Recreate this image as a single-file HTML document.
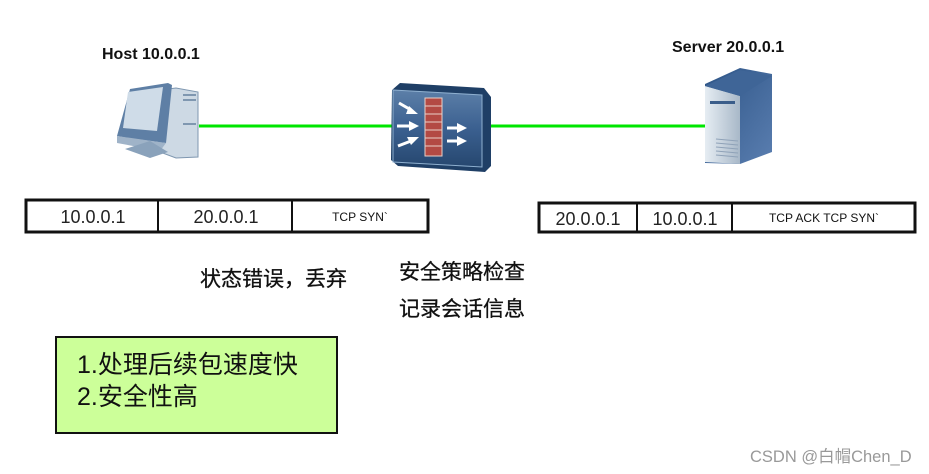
<!DOCTYPE html>
<html><head><meta charset="utf-8"><style>
html,body{margin:0;padding:0;background:#fff;}
svg{display:block;}
text{font-family:"Liberation Sans","Noto Sans CJK SC",sans-serif;}
</style></head><body>
<svg width="929" height="474" viewBox="0 0 929 474" xmlns="http://www.w3.org/2000/svg">
<defs>
<linearGradient id="fw" x1="0" y1="0" x2="0" y2="1"><stop offset="0" stop-color="#5c7fa8"/><stop offset="0.5" stop-color="#3b6090"/><stop offset="1" stop-color="#26476f"/></linearGradient>
<linearGradient id="sv" x1="0" y1="0" x2="1" y2="0"><stop offset="0" stop-color="#e6edf3"/><stop offset="1" stop-color="#a8b8c8"/></linearGradient>
<linearGradient id="sd" x1="0" y1="0" x2="1" y2="1"><stop offset="0" stop-color="#2d5486"/><stop offset="1" stop-color="#5a7eb0"/></linearGradient>
</defs>
<line x1="199" y1="126" x2="392" y2="126" stroke="#00e600" stroke-width="3"/>
<line x1="489" y1="126" x2="708" y2="126" stroke="#00e600" stroke-width="3"/>
<text x="102" y="59" font-size="16" font-weight="bold" fill="#111">Host 10.0.0.1</text>
<text x="672" y="52" font-size="16" font-weight="bold" fill="#111">Server 20.0.0.1</text>
<!-- host PC -->
<polygon points="160,90 176,88 198,92 198,157 176,158 160,152" fill="#cdd9e4" stroke="#7f97b0"/>
<rect x="183" y="94" width="13" height="2" fill="#7f97b0"/>
<rect x="183" y="99" width="13" height="2" fill="#7f97b0"/>
<rect x="183" y="123" width="13" height="2" fill="#7f97b0"/>
<polygon points="130,89 168,83 172,85 166,143 128,138 117,136" fill="#5e7fa5"/>
<polygon points="128,92 163,87 157,131 123,128" fill="#cfdce8"/>
<polygon points="117,136 166,143 160,151 117,143" fill="#9fb3c8"/>
<polygon points="125,149 150,141 168,152 150,158" fill="#8aa2bb"/>
<!-- firewall -->
<polygon points="392,90 400,83 484,88 491,97 491,166 485,172 398,166 391,160" fill="#1f3f66"/>
<polygon points="393,90 482,95 482,167 393,162" fill="url(#fw)" stroke="#8fb0d0" stroke-width="1"/>
<rect x="425" y="98" width="17" height="58" fill="#b34a44" stroke="#e8d0c8" stroke-width="1"/>
<g stroke="#e8d0c8" stroke-width="1">
<line x1="425" y1="106" x2="442" y2="106"/><line x1="425" y1="114" x2="442" y2="114"/><line x1="425" y1="122" x2="442" y2="122"/><line x1="425" y1="130" x2="442" y2="130"/><line x1="425" y1="138" x2="442" y2="138"/><line x1="425" y1="146" x2="442" y2="146"/>
</g>
<g stroke="#fff" stroke-width="3">
<line x1="399" y1="103" x2="411" y2="110"/><line x1="397" y1="126" x2="410" y2="126"/><line x1="398" y1="146" x2="411" y2="141"/>
<line x1="447" y1="128" x2="458" y2="128"/><line x1="447" y1="141" x2="458" y2="141"/>
</g>
<g fill="#fff">
<polygon points="409,106 418,114 406,114"/><polygon points="409,121 419,126 409,131"/><polygon points="407,137 419,137 411,145"/>
<polygon points="457,123 467,128 457,133"/><polygon points="457,136 467,141 457,146"/>
</g>
<!-- server -->
<polygon points="705,84 740,68 772,74 772,152 740,164 705,163" fill="url(#sd)"/>
<polygon points="705,86 740,96 740,164 705,162" fill="url(#sv)"/>
<polygon points="705,86 740,70 772,76 740,96" fill="#3f6597"/>
<rect x="710" y="101" width="25" height="3" fill="#3a5d8a"/>
<g stroke="#8fa2b8" stroke-width="1"><line x1="716" y1="139" x2="738" y2="141"/><line x1="716" y1="143" x2="738" y2="145"/><line x1="716" y1="147" x2="738" y2="149"/><line x1="716" y1="151" x2="738" y2="153"/><line x1="716" y1="155" x2="738" y2="157"/></g>
<!-- left table -->
<rect x="26" y="200" width="402" height="32" fill="#fff" stroke="#111" stroke-width="3"/>
<line x1="158" y1="200" x2="158" y2="232" stroke="#111" stroke-width="2"/>
<line x1="292" y1="200" x2="292" y2="232" stroke="#111" stroke-width="2"/>
<text x="93" y="223" font-size="18" text-anchor="middle" fill="#222">10.0.0.1</text>
<text x="226" y="223" font-size="18" text-anchor="middle" fill="#222">20.0.0.1</text>
<text x="360" y="221" font-size="12" text-anchor="middle" fill="#111">TCP SYN`</text>
<!-- right table -->
<rect x="539" y="203" width="376" height="29" fill="#fff" stroke="#111" stroke-width="3"/>
<line x1="637" y1="203" x2="637" y2="232" stroke="#111" stroke-width="2"/>
<line x1="732" y1="203" x2="732" y2="232" stroke="#111" stroke-width="2"/>
<text x="588" y="225" font-size="18" text-anchor="middle" fill="#222">20.0.0.1</text>
<text x="685" y="225" font-size="18" text-anchor="middle" fill="#222">10.0.0.1</text>
<text x="824" y="222" font-size="12" text-anchor="middle" fill="#111">TCP ACK TCP SYN`</text>
<!-- chinese labels -->
<text x="200" y="286" font-size="21" fill="#111" stroke="#111" stroke-width="0.3">状态错误，丢弃</text>
<text x="399" y="279" font-size="21" fill="#111" stroke="#111" stroke-width="0.3">安全策略检查</text>
<text x="399" y="316" font-size="21" fill="#111" stroke="#111" stroke-width="0.3">记录会话信息</text>
<!-- green box -->
<rect x="56" y="337" width="281" height="96" fill="#ccff99" stroke="#111" stroke-width="2"/>
<text x="77" y="373" font-size="25" fill="#111">1.处理后续包速度快</text>
<text x="77" y="405" font-size="25" fill="#111">2.安全性高</text>
<text x="750" y="462" font-size="16.5" fill="#999">CSDN @白帽Chen_D</text>
</svg>
</body></html>
